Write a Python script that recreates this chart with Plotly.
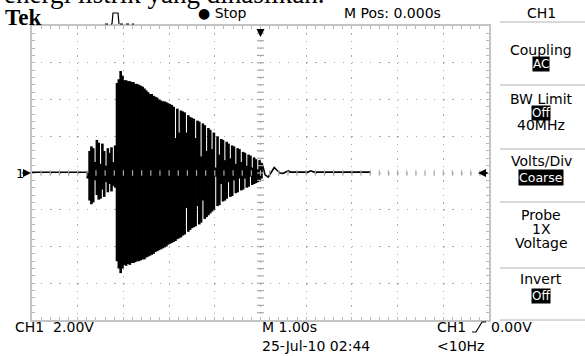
import plotly.graph_objects as go

# CH1 2.00 V/div, M 1.00 s/div, M Pos 0.000 s  -> x: -5..5 s, y: -8..8 V
x_range = [-5.0, 5.0]
y_range = [-8.0, 8.0]

# burst record, peak-detect columns (max / min per column, volts)
rec_t0 = -3.78   # s, time of first column
rec_dt = 0.04    # s, spacing of columns
burst_max = [
    0.00, 1.20, 1.45, 1.35, 0.60, 1.80, 1.65, 0.50, 1.60, 1.20, 0.40, 1.35, 1.10, 1.40, 0.60, 1.50,
    4.90, 5.10, 5.55, 5.30, 5.05, 5.05, 5.00, 5.00, 4.95, 4.95, 4.85, 4.85, 4.80, 4.75, 4.70, 4.60,
    4.50, 4.40, 4.30, 4.30, 4.20, 4.15, 4.10, 4.00, 3.95, 3.90, 3.90, 3.85, 3.80, 3.75, 3.70, 3.60,
    1.90, 3.50, 2.20, 3.40, 3.35, 3.30, 2.20, 3.15, 3.05, 3.00, 2.95, 1.90, 2.85, 2.80, 0.90, 2.70,
    2.60, 1.20, 2.45, 2.35, 1.30, 2.20, 0.30, 2.00, 1.00, 1.85, 1.80, 0.70, 1.70, 1.60, 0.80, 1.50,
    1.45, 0.50, 1.35, 1.30, 0.60, 1.15, 1.10, 0.40, 1.00, 0.95, 0.30, 0.85, 0.75, 0.20, 0.70, 0.50,
]
burst_min = [
    -0.30, -1.50, -1.70, -1.60, -0.40, -1.20, -1.45, -1.40, -0.90, -1.30, -0.50, -1.05, -0.60, -1.00, -0.70, -0.80,
    -4.80, -5.20, -5.45, -5.20, -5.00, -5.05, -4.95, -5.00, -4.90, -4.90, -4.85, -4.80, -4.80, -4.75, -4.70, -4.70,
    -4.60, -4.55, -4.50, -4.45, -4.40, -4.30, -4.25, -4.20, -4.15, -4.10, -4.05, -4.00, -3.90, -3.85, -3.80, -3.75,
    -3.70, -3.60, -3.55, -3.50, -3.40, -3.35, -1.90, -3.20, -3.10, -3.00, -2.95, -2.90, -1.80, -2.80, -2.70, -1.50,
    -2.50, -2.40, -2.30, -2.20, -2.10, -2.00, -0.20, -1.80, -1.75, -0.60, -1.55, -1.50, -1.40, -0.50, -1.30, -1.25,
    -0.40, -1.10, -1.05, -0.30, -0.95, -0.90, -0.30, -0.80, -0.75, -0.20, -0.65, -0.60, -0.55, -0.50, -0.45, -0.30,
]

# flat trace before the burst
lead_t = [-5.0, -3.78]
lead_v = [0.04, 0.04]

# ringing tail and flat trace after the burst (trace ends where acquisition stopped)
tail_t = [0.02, 0.03, 0.06, 0.10, 0.17, 0.23, 0.30, 0.36, 0.43, 0.49, 0.56, 0.61, 0.65, 1.04, 1.10, 1.17, 2.41]
tail_v = [-0.30, 0.55, 0.30, -0.10, -0.22, 0.05, 0.30, 0.15, 0.00, -0.02, 0.05, 0.12, 0.05, 0.05, 0.12, 0.05, 0.05]

# ---------------- layout geometry ----------------
W, H = 585, 356
L, R, T, B = 32, 489, 26, 320


def px(x):
    return (x - L) / (R - L)


def py(y):
    return (B - y) / (B - T)


FONT = "DejaVu Sans"
GRID = "#a9a9a9"

fig = go.Figure()

# burst as peak-detect columns
bx, by = [], []
for i, (hi, lo) in enumerate(zip(burst_max, burst_min)):
    t = rec_t0 + i * rec_dt
    bx += [t, t, None]
    by += [hi, lo, None]
fig.add_trace(go.Scatter(x=bx, y=by, mode="lines", connectgaps=False,
                         line=dict(color="black", width=2.6), hoverinfo="skip"))
fig.add_trace(go.Scatter(x=lead_t, y=lead_v, mode="lines",
                         line=dict(color="black", width=1.6), hoverinfo="skip"))
fig.add_trace(go.Scatter(x=tail_t, y=tail_v, mode="lines",
                         line=dict(color="black", width=1.6), hoverinfo="skip"))

# centre-line graticule ticks (minor divisions)
nx = round((x_range[1] - x_range[0]) / 0.2)
ny = round((y_range[1] - y_range[0]) / 0.4)
cx = [x_range[0] + k * 0.2 for k in range(1, nx)]
cy = [y_range[0] + k * 0.4 for k in range(1, ny)]
fig.add_trace(go.Scatter(x=cx, y=[0] * len(cx), mode="markers", hoverinfo="skip",
                         marker=dict(symbol="line-ns", size=4, line=dict(color=GRID, width=1.2))))
fig.add_trace(go.Scatter(x=[0] * len(cy), y=cy, mode="markers", hoverinfo="skip",
                         marker=dict(symbol="line-ew", size=5, line=dict(color=GRID, width=1.2))))

axis_common = dict(showticklabels=False, zeroline=False, showline=True, linecolor="#c4c4c4",
                   linewidth=2, mirror="allticks", ticks="inside", ticklen=3, tickcolor="#b8b8b8",
                   tickwidth=1, showgrid=True, gridcolor=GRID, gridwidth=1.3,
                   layer="above traces", fixedrange=True)
fig.update_xaxes(range=x_range, dtick=1, tick0=0, griddash="1.3px,6.05px",
                 minor=dict(dtick=0.2, tick0=0, ticks="inside", ticklen=3, tickcolor="#b8b8b8",
                            showgrid=False), **axis_common)
fig.update_yaxes(range=y_range, dtick=2, tick0=0, griddash="1.3px,7.84px",
                 minor=dict(dtick=0.4, tick0=0, ticks="inside", ticklen=3, tickcolor="#b8b8b8",
                            showgrid=False), **axis_common)

anns = []


def txt(s, x, y, size=14, xanchor="left", color="black", bg=None, family=FONT, bold=False):
    if bold:
        s = "<b>" + s + "</b>"
    a = dict(text=s, x=px(x), y=py(y), xref="paper", yref="paper", xanchor=xanchor,
             yanchor="middle", showarrow=False, font=dict(family=family, size=size, color=color),
             borderpad=0)
    if bg:
        a["bgcolor"] = bg
    anns.append(a)


# document text cut off at the top
anns.append(dict(text="energi listrik yang dihasilkan.", x=px(3), y=py(10), xref="paper", yref="paper",
                 xanchor="left", yanchor="bottom", showarrow=False, borderpad=0,
                 font=dict(family="Liberation Serif", size=27, color="black")))
# header
txt("Tek", 4, 17, size=23, family="Liberation Serif", bold=True)
txt("\u25cf Stop", 197, 13)
txt("M Pos: 0.000s", 343, 13)
txt("CH1", 541, 13, xanchor="center")
# menu
txt("Coupling", 541, 50, xanchor="center")
txt("AC", 541, 64, size=12, xanchor="center", color="white", bg="black")
txt("BW Limit", 541, 99, xanchor="center")
txt("Off", 541, 112.5, size=12, xanchor="center", color="white", bg="black")
txt("40MHz", 541, 125, xanchor="center")
txt("Volts/Div", 541, 161, xanchor="center")
txt("Coarse", 541, 177, size=12.5, xanchor="center", color="white", bg="black")
txt("Probe", 541, 215, xanchor="center")
txt("1X", 541, 229, xanchor="center")
txt("Voltage", 541, 243, xanchor="center")
txt("Invert", 541, 279, xanchor="center")
txt("Off", 541, 296, size=12, xanchor="center", color="white", bg="black")
# bottom status
txt("CH1  2.00V", 14, 327)
txt("M 1.00s", 261, 327)
txt("CH1", 436, 327)
txt("0.00V", 490, 327)
txt("25-Jul-10 02:44", 261, 346)
txt("<10Hz", 436, 346)
# channel marker "1"
txt("1", 15, 173, size=13)

# arrows: channel ground marker, trigger position, trigger level
anns.append(dict(x=px(31), y=py(173), xref="paper", yref="paper", ax=-10, ay=0, text="",
                 showarrow=True, arrowhead=2, arrowsize=0.8, arrowwidth=2, arrowcolor="black"))
anns.append(dict(x=0, y=py(37), xref="x", yref="paper", ax=0, ay=-9, text="",
                 showarrow=True, arrowhead=2, arrowsize=0.8, arrowwidth=2, arrowcolor="black"))
anns.append(dict(x=px(478), y=py(173), xref="paper", yref="paper", ax=11, ay=0, text="",
                 showarrow=True, arrowhead=2, arrowsize=0.8, arrowwidth=2, arrowcolor="black"))

shapes = []
# menu separators
for yy in [22, 85, 149, 202, 268, 320]:
    shapes.append(dict(type="line", xref="paper", yref="paper", x0=px(500), x1=px(585),
                       y0=py(yy), y1=py(yy), line=dict(color="#b4b4b4", width=1)))
# acquisition icon (pulse)
shapes.append(dict(type="path", xref="paper", yref="paper",
                   path=f"M{px(105)},{py(24)} L{px(112)},{py(24)}", line=dict(color="black", width=1, dash="dot")))
shapes.append(dict(type="path", xref="paper", yref="paper",
                   path=f"M{px(112)},{py(24)} L{px(113)},{py(13)} L{px(118)},{py(13)} L{px(119)},{py(24)}",
                   line=dict(color="black", width=1.2)))
shapes.append(dict(type="path", xref="paper", yref="paper",
                   path=f"M{px(120)},{py(24)} L{px(134)},{py(24)}", line=dict(color="black", width=1, dash="dot")))
# trigger slope icon
shapes.append(dict(type="path", xref="paper", yref="paper",
                   path=f"M{px(472)},{py(332)} L{px(476)},{py(332)} L{px(482)},{py(322)} L{px(486)},{py(322)}",
                   line=dict(color="black", width=1.2)))

fig.update_layout(width=W, height=H, margin=dict(l=L, r=W - R, t=T, b=H - B),
                  paper_bgcolor="white", plot_bgcolor="white", showlegend=False,
                  annotations=anns, shapes=shapes, hovermode=False)

fig.write_html("out.html", config={"displayModeBar": False},
               post_script="document.body.style.margin='0';")
